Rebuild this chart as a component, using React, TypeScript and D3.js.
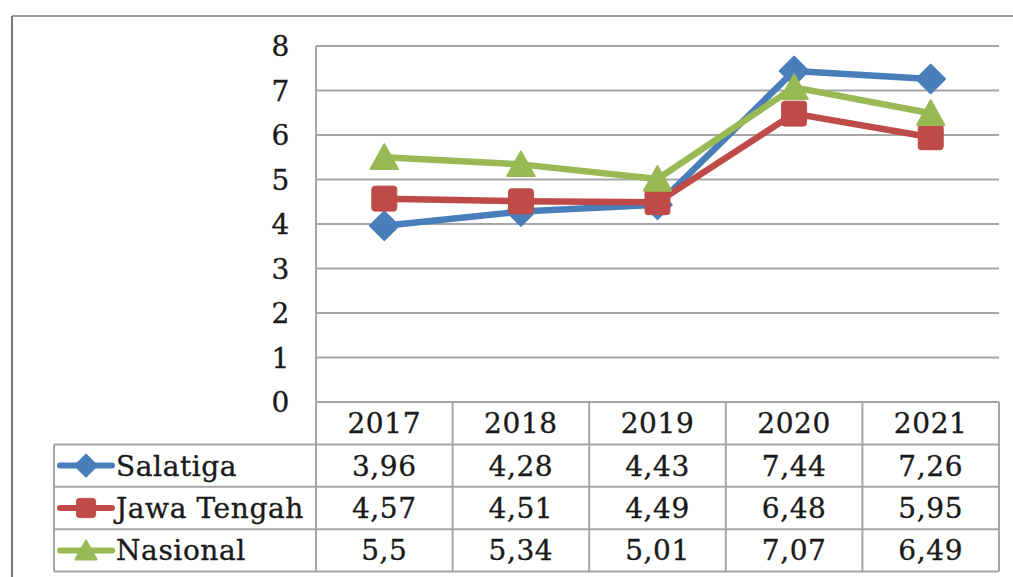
import React from "react";
import * as d3 from "d3";

const years = ["2017", "2018", "2019", "2020", "2021"];
const salatiga = [3.96, 4.28, 4.43, 7.44, 7.26];
const jawaTengah = [4.57, 4.51, 4.49, 6.48, 5.95];
const nasional = [5.5, 5.34, 5.01, 7.07, 6.49];
const yTicks = [0, 1, 2, 3, 4, 5, 6, 7, 8];

const series = [
  { name: "Salatiga", values: salatiga, color: "#4A7EBB", marker: "diamond" },
  { name: "Jawa Tengah", values: jawaTengah, color: "#BE4B48", marker: "square" },
  { name: "Nasional", values: nasional, color: "#98B954", marker: "triangle" },
];

const W = 1013;
const H = 577;
const left = 316;
const right = 999;
const top = 46;
const bottom = 402;
const tableLeft = 54;
const rowH = 42.4;
const FONT = "'DejaVu Serif', serif";
const FS = 28;
const TXT = "#1a1a1a";

function Marker({ kind, cx, cy, color, s }: any) {
  if (kind === "diamond") {
    const r = s * 0.55;
    return (
      <path
        d={`M${cx},${cy - r}L${cx + r},${cy}L${cx},${cy + r}L${cx - r},${cy}Z`}
        fill={color}
        stroke={color}
        strokeWidth={2}
        strokeLinejoin="round"
      />
    );
  }
  if (kind === "square") {
    const h = s * 0.48;
    return (
      <rect x={cx - h} y={cy - h} width={2 * h} height={2 * h} rx={3} fill={color} stroke={color} strokeWidth={1} />
    );
  }
  const h = s * 0.5;
  return (
    <path
      d={`M${cx},${cy - h}L${cx + h * 1.05},${cy + h * 0.9}L${cx - h * 1.05},${cy + h * 0.9}Z`}
      fill={color}
      stroke={color}
      strokeWidth={2}
      strokeLinejoin="round"
    />
  );
}

export default function App() {
  const x = d3.scaleBand<string>().domain(years).range([left, right]);
  const y = d3.scaleLinear().domain([0, 8]).range([bottom, top]);
  const cx = (yr: string) => (x(yr) as number) + x.bandwidth() / 2;
  const line = d3
    .line<number>()
    .x((_, i) => cx(years[i]))
    .y((v) => y(v));

  const rowTops = [bottom, bottom + rowH, bottom + 2 * rowH, bottom + 3 * rowH];
  const tableBottom = bottom + 4 * rowH;
  const grid = "#A6A6A6";
  const tp = { fontSize: FS, fill: TXT, stroke: TXT, strokeWidth: 0.35, letterSpacing: 0.6 };

  return (
    <svg
      width={W}
      height={H}
      style={{ position: "absolute", left: 0, top: 0, background: "#fff" }}
      fontFamily={FONT}
    >
      <rect x={0} y={0} width={W} height={H} fill="#fff" />
      {/* outer frame */}
      <line x1={12} y1={16} x2={W} y2={16} stroke="#9a9a9a" strokeWidth={2} />
      <line x1={12} y1={16} x2={12} y2={H} stroke="#777" strokeWidth={2} />

      {/* gridlines */}
      {yTicks.map((t) => (
        <line key={t} x1={left} x2={right} y1={y(t)} y2={y(t)} stroke={grid} strokeWidth={2} />
      ))}
      {yTicks.map((t) => (
        <text key={"l" + t} x={290} y={y(t) + 10} textAnchor="end" {...tp}>
          {t}
        </text>
      ))}

      {/* table */}
      <line x1={left} x2={left} y1={top} y2={tableBottom} stroke={grid} strokeWidth={2} />
      {years.map((yr) => (
        <line
          key={"v" + yr}
          x1={(x(yr) as number) + x.bandwidth()}
          x2={(x(yr) as number) + x.bandwidth()}
          y1={bottom}
          y2={tableBottom}
          stroke={grid}
          strokeWidth={2}
        />
      ))}
      {rowTops.slice(1).map((ry, i) => (
        <line key={"h" + i} x1={tableLeft} x2={right} y1={ry} y2={ry} stroke={grid} strokeWidth={2} />
      ))}
      <line x1={tableLeft} x2={right} y1={tableBottom} y2={tableBottom} stroke={grid} strokeWidth={2} />
      <line x1={tableLeft} x2={tableLeft} y1={rowTops[1]} y2={tableBottom} stroke={grid} strokeWidth={2} />

      {years.map((yr) => (
        <text key={"yr" + yr} x={cx(yr)} y={bottom + rowH / 2 + 10} textAnchor="middle" {...tp}>
          {yr}
        </text>
      ))}
      {series.map((s, si) => {
        const rc = rowTops[si + 1] + rowH / 2;
        return (
          <g key={"row" + s.name}>
            <line x1={60} x2={112} y1={rc} y2={rc} stroke={s.color} strokeWidth={6} strokeLinecap="round" />
            <Marker kind={s.marker} cx={86} cy={rc} color={s.color} s={20} />
            <text x={116} y={rc + 10} {...tp}>
              {s.name}
            </text>
            {s.values.map((v, i) => (
              <text key={i} x={cx(years[i])} y={rc + 10} textAnchor="middle" {...tp}>
                {String(v).replace(".", ",")}
              </text>
            ))}
          </g>
        );
      })}

      {/* series */}
      {series.map((s) => (
        <g key={"s" + s.name}>
          <path d={line(s.values) as string} fill="none" stroke={s.color} strokeWidth={6.5} strokeLinejoin="round" />
          {s.values.map((v, i) => (
            <Marker key={i} kind={s.marker} cx={cx(years[i])} cy={y(v)} color={s.color} s={26} />
          ))}
        </g>
      ))}
    </svg>
  );
}
